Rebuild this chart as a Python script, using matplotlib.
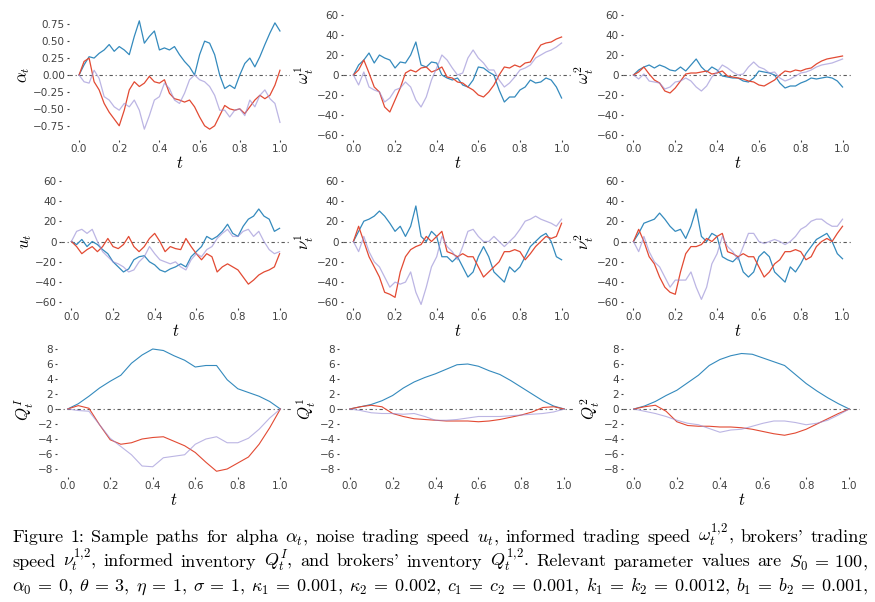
import numpy as np
import matplotlib
matplotlib.use("Agg")
import matplotlib.pyplot as plt

plt.rcParams['mathtext.fontset'] = 'cm'

RED = '#E24A33'
BLUE = '#348ABD'
PURPLE = '#988ED5'

# sample paths (noisy ones every 0.025, inventories every 0.05)
alpha_blue = [0, 0.15, 0.27, 0.25, 0.32, 0.37, 0.45, 0.35, 0.42, 0.37, 0.30, 0.57, 0.80, 0.47,
              0.57, 0.65, 0.37, 0.40, 0.37, 0.42, 0.30, 0.20, 0.12, 0.00, 0.30, 0.50, 0.47, 0.30,
              0.00, -0.20, -0.15, -0.20, 0.00, 0.17, 0.25, 0.12, 0.27, 0.45, 0.62, 0.77, 0.65]
alpha_red = [0, 0.20, 0.25, -0.10, -0.22, -0.42, -0.55, -0.65, -0.75, -0.52, -0.22, -0.10, -0.17,
             -0.12, -0.02, -0.10, -0.12, -0.07, -0.27, -0.35, -0.37, -0.40, -0.37, -0.47, -0.62,
             -0.75, -0.80, -0.75, -0.60, -0.45, -0.50, -0.52, -0.50, -0.57, -0.47, -0.37, -0.30,
             -0.35, -0.30, -0.15, 0.07]
alpha_purple = [0, -0.10, -0.12, 0.07, -0.05, -0.32, -0.37, -0.47, -0.52, -0.42, -0.47, -0.37,
                -0.52, -0.80, -0.60, -0.37, -0.32, -0.12, -0.20, -0.37, -0.42, -0.27, -0.07, 0.00,
                -0.07, -0.10, -0.17, -0.30, -0.52, -0.52, -0.62, -0.52, -0.50, -0.60, -0.37, -0.47,
                -0.30, -0.22, -0.35, -0.42, -0.70]

omega1_blue = [0, 10, 15, 22, 12, 20, 17, 15, 7, 13, 12, 20, 33, 10, 8, 13, 12, 0, -3, -5, -3,
               -10, -12, -5, 8, 7, 3, 0, -15, -27, -22, -22, -15, -12, -5, -8, -7, -3, -5, -12, -23]
omega1_red = [0, 5, 15, 2, -12, -17, -32, -37, -25, -13, 2, 5, 3, 7, 8, 3, 5, 8, -2, -3, -7, -8,
              -12, -15, -20, -22, -17, -10, 0, 8, 7, 10, 8, 12, 13, 22, 30, 32, 33, 36, 38]
omega1_purple = [0, -10, 3, -12, -15, -17, -27, -23, -15, -13, -7, -12, -25, -32, -22, -5, 7, 20,
                 15, 7, 0, 2, 17, 25, 17, 12, 5, 5, -5, -12, -8, -2, 5, 7, 10, 17, 20, 23, 25, 28, 32]

omega2_blue = [0, 5, 8, 10, 7, 10, 8, 5, 4, 8, 4, 10, 16, 8, 3, 8, 5, -1, -2, -3, -3, -6, -7, -3,
               4, 3, 2, 0, -8, -13, -11, -11, -8, -6, -3, -4, -3, -2, -3, -6, -12]
omega2_red = [0, 3, 8, 1, -5, -8, -16, -18, -13, -6, 1, 2, 2, 3, 4, 1, 2, 4, -1, -2, -3, -4, -6,
              -7, -10, -11, -8, -5, 0, 4, 3, 5, 4, 6, 7, 11, 14, 16, 17, 18, 19]
omega2_purple = [0, -4, 1, -6, -7, -8, -14, -12, -7, -6, -3, -6, -12, -16, -11, -2, 3, 10, 7, 3,
                 0, 1, 8, 13, 8, 6, 2, 3, -3, -6, -4, -1, 2, 3, 5, 8, 10, 11, 12, 14, 16]

u_blue = [0, -3, 2, -5, 0, -3, -8, -12, -20, -25, -30, -27, -18, -15, -14, -20, -23, -28, -30, -27,
          -25, -22, -25, -15, -10, -5, 5, 2, 5, 10, 17, 8, 5, 15, 22, 25, 32, 25, 22, 10, 13]
u_red = [0, -5, -12, -8, -5, -10, -5, 3, -5, -7, -3, 5, -5, -10, -5, 3, 8, 0, -10, -5, -7, -8, 3,
         -5, -12, -18, -12, -15, -30, -25, -22, -25, -28, -35, -42, -38, -33, -30, -28, -25, -12]
u_purple = [0, 10, 12, 8, 12, 0, -10, -15, -20, -22, -25, -30, -28, -20, -15, -5, -12, -18, -20,
            -22, -20, -25, -28, -18, -12, -15, -8, -5, 3, 8, 12, 5, 5, 10, 12, 5, 10, 0, -8, -12, -10]

nu1_blue = [0, 10, 20, 22, 25, 30, 25, 18, 10, 15, 5, 15, 35, 5, 0, 10, 5, -15, -15, -20, -15,
            -25, -35, -30, -15, -5, -15, -30, -35, -40, -25, -30, -25, -15, -5, 0, 5, 8, 0, -15, -18]
nu1_red = [0, 15, 0, -15, -25, -35, -50, -52, -55, -30, -15, -8, -5, -3, 5, 0, 5, 10, -10, -12,
           -15, -12, -15, -15, -25, -35, -30, -25, -20, -10, -10, -8, -10, -18, -12, -5, 0, 5, 3, 5, 18]
nu1_purple = [0, -10, 5, -10, -20, -25, -35, -45, -40, -42, -40, -30, -50, -62, -45, -25, -15, 5,
              -5, -10, -18, -5, 10, 12, 5, 0, 0, 5, 0, -5, 0, 5, 12, 20, 22, 25, 22, 20, 18, 15, 22]

nu2_blue = [0, 8, 18, 20, 22, 28, 22, 15, 10, 12, 3, 15, 32, 5, 0, 8, 5, -15, -18, -20, -15, -30,
            -35, -30, -15, -10, -15, -30, -35, -40, -25, -30, -22, -12, -5, 2, 5, 8, 0, -12, -17]
nu2_red = [0, 12, 0, -15, -22, -35, -45, -50, -52, -30, -12, -5, -5, -3, 3, 0, 5, 8, -10, -12,
           -15, -12, -15, -15, -25, -35, -30, -22, -18, -10, -10, -8, -10, -18, -15, -5, 0, 3, 0, 8, 15]
nu2_purple = [0, -10, 5, -10, -20, -25, -35, -45, -38, -38, -38, -30, -45, -57, -45, -22, -12, 5,
              -5, -10, -18, -5, 8, 8, 0, -2, 0, 2, 0, -3, 0, 5, 12, 15, 20, 22, 22, 18, 15, 15, 22]

qI_blue = [0, 0.7, 1.7, 2.8, 3.7, 4.5, 6.1, 7.2, 8.0, 7.8, 7.1, 6.5, 5.6, 5.8, 5.8, 3.9, 2.7,
           2.2, 1.7, 1.0, 0]
qI_red = [0, 0.45, 0.1, -2.1, -4.1, -4.7, -4.5, -4.0, -3.8, -3.7, -4.3, -4.9, -5.8, -7.1, -8.3,
          -8.0, -7.2, -6.4, -4.7, -2.5, 0]
qI_purple = [0, -0.2, -0.3, -2.1, -3.9, -5.0, -6.1, -7.6, -7.7, -6.5, -6.3, -6.1, -4.7, -4.0,
             -3.7, -4.5, -4.5, -3.9, -2.7, -1.2, 0]
q1_blue = [0, 0.3, 0.6, 1.1, 1.8, 2.8, 3.6, 4.2, 4.7, 5.3, 5.9, 6.0, 5.7, 5.1, 4.6, 3.8, 2.9,
           2.0, 1.1, 0.4, 0]
q1_red = [0, 0.3, 0.5, 0.3, -0.6, -1.0, -1.3, -1.4, -1.5, -1.6, -1.6, -1.6, -1.7, -1.6, -1.4,
          -1.1, -0.8, -0.4, 0.2, 0.3, 0]
q1_purple = [0, -0.2, -0.5, -0.6, -0.6, -0.7, -0.6, -1.0, -1.5, -1.5, -1.4, -1.2, -1.0, -1.0,
             -1.0, -0.9, -0.8, -0.7, -0.6, -0.4, 0]
q2_blue = [0, 0.4, 1.0, 1.8, 2.5, 3.5, 4.5, 5.8, 6.6, 7.1, 7.4, 7.3, 6.8, 6.3, 5.8, 4.6, 3.4,
           2.4, 1.5, 0.7, 0]
q2_red = [0, 0.3, 0.5, -0.3, -1.7, -2.2, -2.3, -2.3, -2.4, -2.4, -2.5, -2.7, -3.0, -3.3, -3.5,
          -3.2, -2.7, -2.0, -1.3, -0.6, 0]
q2_purple = [0, -0.3, -0.6, -1.0, -1.5, -1.9, -2.1, -2.6, -3.1, -2.8, -2.7, -2.3, -1.9, -1.6,
             -1.6, -1.8, -2.1, -1.9, -1.5, -0.8, 0]

ylabels = [r'$\alpha_t$', r'$\omega_t^1$', r'$\omega_t^2$',
           r'$u_t$', r'$\nu_t^1$', r'$\nu_t^2$',
           r'$Q_t^I$', r'$Q_t^1$', r'$Q_t^2$']

# words separated by single spaces; gaps between them are stretched to justify the line
caption_lines = [
    r"Figure 1: Sample paths for alpha $\alpha_t$, noise trading speed $u_t$, informed trading speed $\omega_t^{1,\!2}$, brokers' trading",
    r"speed $\nu_t^{1,\!2}$, informed inventory $Q_t^I$, and brokers' inventory $Q_t^{1,\!2}$. Relevant parameter values are $S_0\:=\:100$,",
    r"$\alpha_0\:=\:0$, $\theta\:=\:3$, $\eta\:=\:1$, $\sigma\:=\:1$, $\kappa_1\:=\:0.001$, $\kappa_2\:=\:0.002$, $c_1\:=\:c_2\:=\:0.001$, $k_1\:=\:k_2\:=\:0.0012$, $b_1\:=\:b_2\:=\:0.001$,",
]

panels = [
    (alpha_blue, alpha_red, alpha_purple), (omega1_blue, omega1_red, omega1_purple),
    (omega2_blue, omega2_red, omega2_purple), (u_blue, u_red, u_purple),
    (nu1_blue, nu1_red, nu1_purple), (nu2_blue, nu2_red, nu2_purple),
    (qI_blue, qI_red, qI_purple), (q1_blue, q1_red, q1_purple), (q2_blue, q2_red, q2_purple),
]

W, H = 875, 602
fig = plt.figure(figsize=(W / 100, H / 100), dpi=100)

# pixel boxes (left, right, top, bottom) of each panel
boxes = [
    (69, 290, 10, 140), (343, 572, 10, 140), (623, 853, 10, 140),
    (61, 290, 175.5, 307.5), (343, 572, 175.5, 307.5), (623, 853, 175.5, 307.5),
    (57, 291, 341.5, 476.5), (339, 575, 341.5, 476.5), (623, 860, 341.5, 476.5),
]

for i, (series, box, ylab) in enumerate(zip(panels, boxes, ylabels)):
    l, r, t, b = box
    ax = fig.add_axes([l / W, 1 - b / H, (r - l) / W, (b - t) / H])
    for s in ax.spines.values():
        s.set_visible(False)
    lw = 0.9 if i < 6 else 0.8
    for vals, col, a in zip(series, (BLUE, RED, PURPLE), (1.0, 1.0, 0.65)):
        tt = np.linspace(0, 1, len(vals))
        ax.plot(tt, vals, color=col, lw=lw, alpha=a)
    ax.axhline(0, color='.35', lw=0.8, ls=(0, (3, 2.5, 1, 2.5)), zorder=0)
    ax.set_xlim(-0.05, 1.05)
    ax.set_xticks(np.arange(0, 1.01, 0.2))
    if i == 0:
        ax.set_ylim(-0.96, 0.96)
        ax.set_yticks([-0.75, -0.5, -0.25, 0, 0.25, 0.5, 0.75])
    elif i < 6:
        ax.set_ylim(-65, 65)
        ax.set_yticks(np.arange(-60, 61, 20))
    else:
        ax.set_ylim(-9, 9)
        ax.set_yticks(np.arange(-8, 9, 2))
    ax.tick_params(labelsize=7.5, labelcolor='.25', color='.25', length=1.5, width=0.8, pad=1.5)
    ax.set_xlabel('$t$', fontsize=12, labelpad=0)
    ax.set_ylabel(ylab, fontsize=12, labelpad=1)

# justified caption
renderer = fig.canvas.get_renderer()
x_start, x_end = 12, 868
baselines = [542, 566.5, 591]
for line, base in zip(caption_lines, baselines):
    words = line.split(' ')
    texts = [fig.text(0, 1 - base / H, w, fontsize=13, family='cmr10', va='baseline')
             for w in words]
    widths = [tx.get_window_extent(renderer).width for tx in texts]
    gap = (x_end - x_start - sum(widths)) / (len(words) - 1)
    x = x_start
    for tx, w in zip(texts, widths):
        tx.set_x(x / W)
        x += w + gap

fig.savefig('out.png', dpi=100)
